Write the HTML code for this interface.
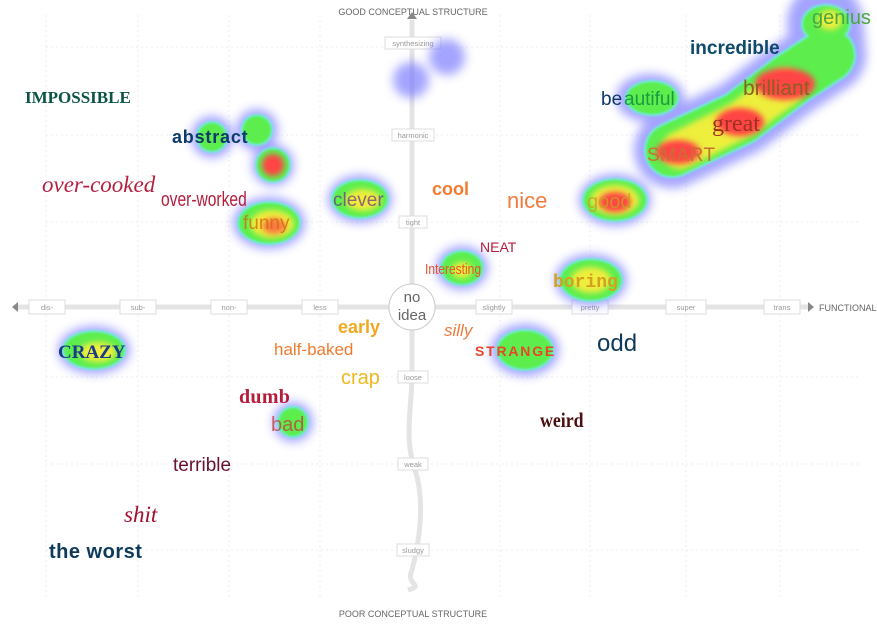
<!DOCTYPE html>
<html><head><meta charset="utf-8"><style>
body{margin:0;background:#fff;}
svg{display:block;}
</style></head><body>
<svg width="877" height="624" viewBox="0 0 877 624" xmlns="http://www.w3.org/2000/svg" font-family="Liberation Sans, sans-serif">
<defs>
<filter id="b8" x="-50%" y="-50%" width="200%" height="200%"><feGaussianBlur stdDeviation="5"/></filter>
<filter id="b4" x="-50%" y="-50%" width="200%" height="200%"><feGaussianBlur stdDeviation="3"/></filter>
<filter id="b2" x="-50%" y="-50%" width="200%" height="200%"><feGaussianBlur stdDeviation="1"/></filter>
</defs>
<g stroke="#ececec" stroke-width="1" stroke-dasharray="2,3">
<line x1="46" y1="47" x2="860" y2="47"/><line x1="46" y1="135" x2="860" y2="135"/><line x1="46" y1="222" x2="860" y2="222"/>
<line x1="46" y1="377" x2="860" y2="377"/><line x1="46" y1="464" x2="860" y2="464"/><line x1="46" y1="550" x2="860" y2="550"/>
<line x1="46" y1="15" x2="46" y2="600"/><line x1="138" y1="15" x2="138" y2="600"/><line x1="229" y1="15" x2="229" y2="600"/><line x1="320" y1="15" x2="320" y2="600"/>
<line x1="500" y1="15" x2="500" y2="600"/><line x1="590" y1="15" x2="590" y2="600"/><line x1="686" y1="15" x2="686" y2="600"/><line x1="780" y1="15" x2="780" y2="600"/>
</g>
<line x1="18" y1="307" x2="808" y2="307" stroke="#e4e4e4" stroke-width="5"/>
<path d="M412 20 L412 380 C410 420 405 440 415 470 C425 500 420 540 412 570 C405 585 425 585 408 590" fill="none" stroke="#e4e4e4" stroke-width="5"/>
<polygon points="407,19 417,19 412,12" fill="#888"/>
<polygon points="18,302 18,312 12,307" fill="#888"/>
<polygon points="808,302 808,312 814,307" fill="#888"/>
<text x="413" y="15" font-size="9" fill="#666" text-anchor="middle">GOOD CONCEPTUAL STRUCTURE</text>
<text x="413" y="617" font-size="9" fill="#666" text-anchor="middle">POOR CONCEPTUAL STRUCTURE</text>
<text x="819" y="311" font-size="9" fill="#666">FUNCTIONAL</text>
<g font-size="7.5" fill="#999" text-anchor="middle" stroke-width="1">
<g fill="#fff" stroke="#ddd">
<rect x="29" y="300" width="36" height="14"/><rect x="120" y="300" width="36" height="14"/><rect x="211" y="300" width="36" height="14"/><rect x="302" y="300" width="36" height="14"/>
<rect x="476" y="300" width="36" height="14"/><rect x="572" y="300" width="36" height="14"/><rect x="666" y="300" width="40" height="14"/><rect x="764" y="300" width="36" height="14"/>
<rect x="385" y="37" width="56" height="12"/><rect x="392" y="129" width="42" height="12"/><rect x="399" y="216" width="28" height="12"/>
<rect x="398" y="371" width="30" height="12"/><rect x="398" y="458" width="30" height="12"/><rect x="397" y="544" width="32" height="12"/>
</g>
<text x="47" y="310">dis-</text><text x="138" y="310">sub-</text><text x="229" y="310">non-</text><text x="320" y="310">less</text>
<text x="494" y="310">slightly</text><text x="590" y="310">pretty</text><text x="686" y="310">super</text><text x="782" y="310">trans</text>
<text x="413" y="46">synthesizing</text><text x="413" y="138">harmonic</text><text x="413" y="225">tight</text>
<text x="413" y="380">loose</text><text x="413" y="467">weak</text><text x="413" y="553">sludgy</text>
</g>
<circle cx="412" cy="307" r="23" fill="#fff" stroke="#ccc" stroke-width="1"/>
<text x="412" y="302" font-size="15" fill="#666" text-anchor="middle">no</text>
<text x="412" y="320" font-size="15" fill="#666" text-anchor="middle">idea</text>

<g opacity="0.95">
<g fill="#7777ff" filter="url(#b8)" opacity="0.7">
<circle cx="447" cy="57" r="18"/><circle cx="411" cy="80" r="18"/>
<circle cx="212" cy="137" r="21"/><circle cx="257" cy="130" r="21"/><circle cx="273" cy="165" r="21"/>
<ellipse cx="269" cy="223" rx="36" ry="26"/><ellipse cx="360" cy="199" rx="32" ry="24"/>
<ellipse cx="462" cy="268" rx="26" ry="22"/><ellipse cx="591" cy="280" rx="36" ry="26"/>
<ellipse cx="615" cy="200" rx="36" ry="26"/><ellipse cx="650" cy="98" rx="34" ry="24"/>
<ellipse cx="94" cy="350" rx="36" ry="24"/><ellipse cx="525" cy="350" rx="34" ry="26"/><circle cx="293" cy="422" r="20"/>
<path d="M672 150 L740 118 L790 80 L828 55 L825 22" stroke="#7777ff" stroke-width="76" stroke-linecap="round" stroke-linejoin="round" fill="none"/>
</g>
<g fill="#66eedd" filter="url(#b2)">
<circle cx="212" cy="137" r="16"/><circle cx="257" cy="130" r="16"/><circle cx="273" cy="165" r="18"/>
<ellipse cx="269" cy="223" rx="32" ry="22"/><ellipse cx="360" cy="199" rx="29" ry="20"/>
<ellipse cx="462" cy="268" rx="22" ry="18"/><ellipse cx="591" cy="280" rx="32" ry="22"/>
<ellipse cx="615" cy="200" rx="33" ry="22"/><ellipse cx="652" cy="98" rx="27" ry="18"/>
<ellipse cx="94" cy="350" rx="32" ry="20"/><ellipse cx="525" cy="350" rx="29" ry="21"/><circle cx="293" cy="422" r="16"/>
<path d="M672 150 L740 118 L790 80 L828 55" stroke="#66eedd" stroke-width="56" stroke-linecap="round" stroke-linejoin="round" fill="none"/>
<ellipse cx="826" cy="24" rx="25" ry="20"/>
</g>
<g fill="#55ee44" filter="url(#b2)">
<circle cx="212" cy="137" r="14"/><circle cx="257" cy="130" r="14"/><circle cx="273" cy="165" r="16"/>
<ellipse cx="269" cy="223" rx="30" ry="20"/><ellipse cx="360" cy="199" rx="27" ry="18"/>
<ellipse cx="462" cy="268" rx="20" ry="16"/><ellipse cx="591" cy="280" rx="30" ry="20"/>
<ellipse cx="615" cy="200" rx="31" ry="20"/><ellipse cx="652" cy="98" rx="25" ry="16"/>
<ellipse cx="94" cy="350" rx="30" ry="18"/><ellipse cx="525" cy="350" rx="27" ry="19"/><circle cx="293" cy="422" r="14"/>
<path d="M672 150 L740 118 L790 80 L828 55" stroke="#55ee44" stroke-width="52" stroke-linecap="round" stroke-linejoin="round" fill="none"/>
<ellipse cx="826" cy="24" rx="23" ry="18"/>
</g>
<g fill="#eeee33" filter="url(#b4)">
<ellipse cx="272" cy="224" rx="22" ry="14"/><ellipse cx="363" cy="200" rx="18" ry="11"/>
<ellipse cx="591" cy="280" rx="20" ry="13"/><ellipse cx="615" cy="200" rx="24" ry="15"/>
<ellipse cx="98" cy="352" rx="18" ry="10"/><ellipse cx="462" cy="270" rx="10" ry="8"/>
<path d="M680 150 L740 120 L785 88" stroke="#eeee33" stroke-width="38" stroke-linecap="round" stroke-linejoin="round" fill="none"/>
<ellipse cx="830" cy="20" rx="12" ry="10"/>
</g>
<g fill="#ff3a3a" filter="url(#b4)">
<circle cx="273" cy="165" r="11"/>
<ellipse cx="274" cy="226" rx="12" ry="8" opacity="0.7"/>
<ellipse cx="615" cy="202" rx="16" ry="10"/>
<ellipse cx="678" cy="152" rx="22" ry="12"/><ellipse cx="740" cy="122" rx="24" ry="14"/><ellipse cx="785" cy="84" rx="30" ry="16"/>
</g>
</g>

<text x="25" y="103" font-family="Liberation Serif, serif" font-weight="bold" font-size="17" fill="#0c5347">IMPOSSIBLE</text>
<text x="172" y="143" font-weight="900" font-size="18" fill="#0d3a6a" letter-spacing="0.8">abstract</text>
<text x="42" y="192" font-family="Liberation Serif, serif" font-style="italic" font-size="23" fill="#b52040">over-cooked</text>
<text x="161" y="206" font-size="20" fill="#b51c3c" transform="translate(161 206) scale(0.78 1) translate(-161 -206)">over-worked</text>
<text x="243" y="229" font-size="19" fill="#d46a10" opacity="0.8">funny</text>
<text x="333" y="206" font-size="19" fill="#6a2a8a" opacity="0.7">clever</text>
<text x="432" y="195" font-weight="bold" font-size="18" fill="#f07b2e">cool</text>
<text x="507" y="208" font-size="22" fill="#f07b3e">nice</text>
<text x="480" y="252" font-size="14" fill="#b51c3c">NEAT</text>
<text x="425" y="274" font-size="15" fill="#e8542a" transform="translate(425 274) scale(0.8 1) translate(-425 -274)">Interesting</text>
<text x="553" y="287" font-family="Liberation Mono, monospace" font-weight="bold" font-size="18" fill="#d4a020">boring</text>
<text x="587" y="208" font-size="20" fill="#c8a020" opacity="0.8">good</text>
<text x="601" y="105" font-size="19" fill="#0d3a6a">be</text>
<text x="624" y="105" font-size="19" fill="#1a9a40">autiful</text>
<text x="690" y="54" font-weight="900" font-size="19" fill="#0d4a6a">incredible</text>
<text x="812" y="24" font-size="20" fill="#4aa840">genius</text>
<text x="743" y="95" font-size="21" fill="#8a6020">brilliant</text>
<text x="712" y="131" font-family="Liberation Serif, serif" font-size="24" fill="#a03020">great</text>
<text x="647" y="161" font-size="19" fill="#c87030" letter-spacing="0.5">SMART</text>
<text x="58" y="358" font-family="Liberation Serif, serif" font-weight="bold" font-size="19" fill="#1a3a8a">CRAZY</text>
<text x="274" y="355" font-size="17" fill="#f07b2e">half-baked</text>
<text x="338" y="333" font-weight="bold" font-size="18" fill="#f0a820">early</text>
<text x="444" y="336" font-style="italic" font-size="17" fill="#f07b3e">silly</text>
<text x="475" y="356" font-weight="bold" font-size="14" fill="#e8442a" letter-spacing="1.8">STRANGE</text>
<text x="597" y="351" font-size="24" fill="#0d3a5a">odd</text>
<text x="341" y="384" font-size="20" fill="#f0b820">crap</text>
<text x="239" y="403" font-family="Liberation Serif, serif" font-weight="bold" font-size="20" fill="#b51c3c" letter-spacing="0.3">dumb</text>
<text x="271" y="431" font-size="20" fill="#c04040" opacity="0.8">bad</text>
<text x="540" y="427" font-family="Liberation Serif, serif" font-weight="bold" font-size="21" fill="#4a1010" transform="translate(540 427) scale(0.85 1) translate(-540 -427)">weird</text>
<text x="173" y="471" font-size="19" fill="#6a1030">terrible</text>
<text x="124" y="522" font-family="Liberation Serif, serif" font-style="italic" font-size="23" fill="#a01030">shit</text>
<text x="49" y="558" font-weight="bold" font-size="20" fill="#0d3a5a" letter-spacing="0.5">the worst</text>
</svg>
</body></html>
